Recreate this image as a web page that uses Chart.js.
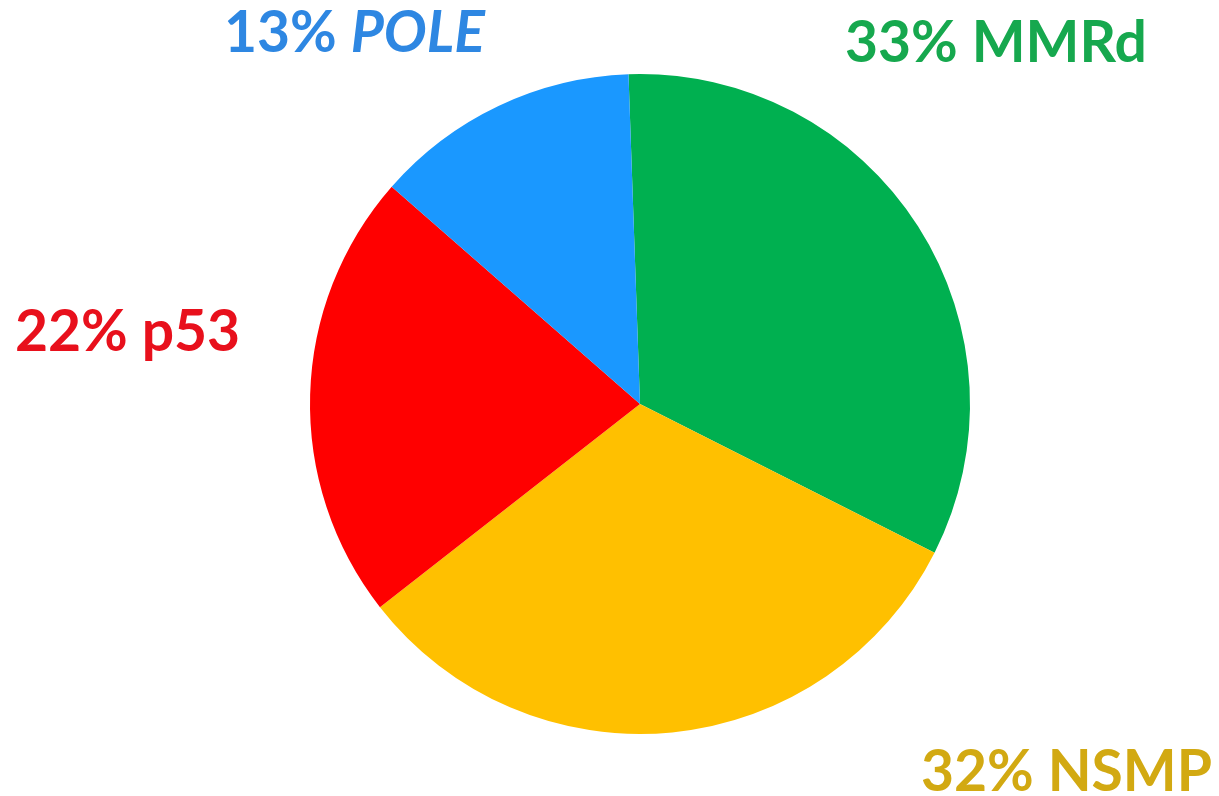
<!DOCTYPE html>
<html>
<head>
<meta charset="utf-8">
<title>Molecular subgroups</title>
<script src="https://cdn.jsdelivr.net/npm/chart.js@4/dist/chart.umd.min.js"></script>
<style>
  html, body { margin: 0; padding: 0; background: #fff; }
  #chart { display: block; }
</style>
</head>
<body>
<canvas id="chart" width="1219" height="796"></canvas>
<script>
// Subgroup shares, clockwise from the top
const groups = ['MMRd', 'NSMP', 'p53', 'POLE'];
const shares = [33, 32, 22, 13];
const sliceColors = ['#00b050', '#ffc000', '#ff0000', '#1a98ff'];
const textColors = ['#16a84e', '#d2a912', '#e8101c', '#2e87e2'];
const italicNames = [false, false, false, true];

// Where each label sits on the canvas (left x, baseline y)
const labelPos = [[845, 62], [921, 791], [15, 351], [224, 52]];

const labelFont = '"Lato", "Open Sans", sans-serif';
const labelSize = 57;

const labelPlugin = {
    id: 'sliceLabels',
    afterDraw(chart) {
        const ctx = chart.ctx;
        ctx.save();
        ctx.textBaseline = 'alphabetic';
        ctx.textAlign = 'left';
        groups.forEach(function(name, i) {
            const [x, y] = labelPos[i];
            const pct = shares[i] + '% ';
            ctx.fillStyle = textColors[i];
            ctx.font = 'bold ' + labelSize + 'px ' + labelFont;
            ctx.fillText(pct, x, y);
            const w = ctx.measureText(pct).width;
            ctx.font = (italicNames[i] ? 'italic ' : '') + 'bold ' + labelSize + 'px ' + labelFont;
            ctx.fillText(name, x + w, y);
        });
        ctx.restore();
    }
};

new Chart(document.getElementById('chart'), {
    type: 'pie',
    data: {
        labels: groups,
        datasets: [{
            data: shares,
            backgroundColor: sliceColors,
            borderWidth: 0
        }]
    },
    options: {
        responsive: false,
        animation: false,
        rotation: -2,
        layout: { padding: { left: 310, right: 249, top: 74, bottom: 62 } },
        plugins: {
            legend: { display: false },
            tooltip: { enabled: false }
        }
    },
    plugins: [labelPlugin]
});
</script>
</body>
</html>
